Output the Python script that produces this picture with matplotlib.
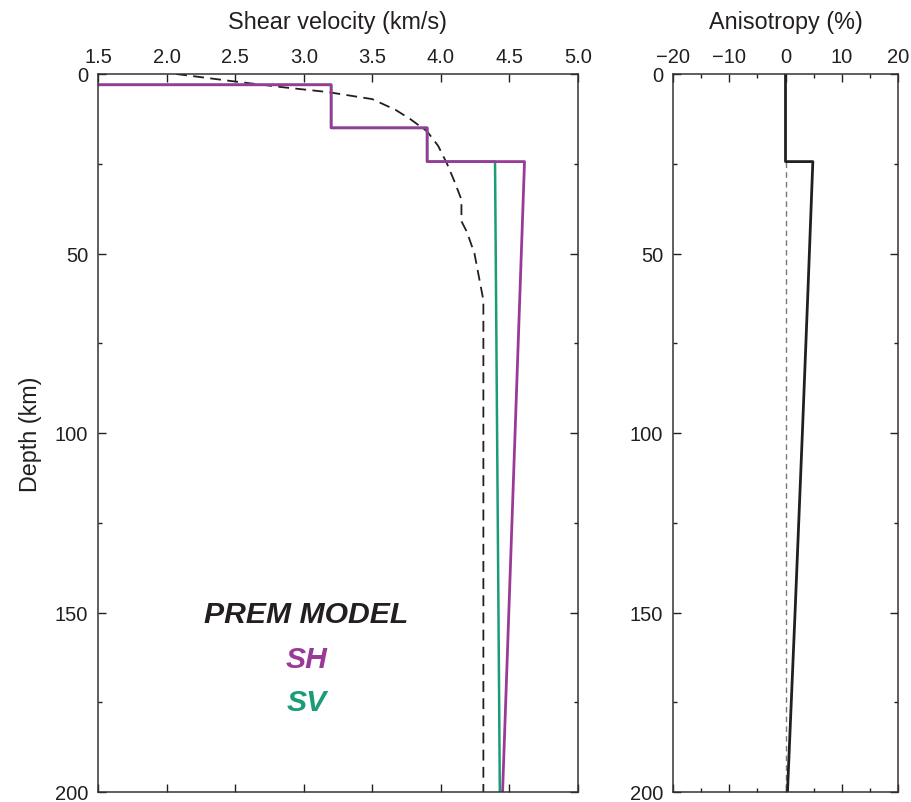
import matplotlib
matplotlib.use("Agg")
import matplotlib.pyplot as plt
from matplotlib.ticker import MultipleLocator

plt.rcParams['font.family'] = ['Liberation Sans', 'DejaVu Sans']

# ---- data ----
depth_sv = [0.0, 3.0, 3.0, 15.0, 15.0, 24.4, 24.4, 200.0]
vsv = [0.0, 0.0, 3.2, 3.2, 3.9, 3.9, 4.395, 4.43]
depth_sh = [0.0, 3.0, 3.0, 15.0, 15.0, 24.4, 24.4, 200.0]
vsh = [0.0, 0.0, 3.2, 3.2, 3.9, 3.9, 4.61, 4.45]
depth_obs = [0, 2, 3.7, 5, 7, 10, 12.5, 16, 20, 25, 30, 35, 41, 44, 50, 55, 63, 200]
v_obs = [2.07, 2.48, 2.85, 3.17, 3.5, 3.67, 3.775, 3.9, 3.98, 4.045, 4.1, 4.15, 4.15,
         4.19, 4.245, 4.27, 4.31, 4.31]
depth_an = [0.0, 24.4, 24.4, 60.0, 100.0, 150.0, 200.0]
aniso = [0.0, 0.0, 4.86, 4.0, 3.0, 1.7, 0.35]
depth_ref = [24.4, 200.0]
aniso_ref = [0.0, 0.0]

vel_ticks = [1.5, 2.0, 2.5, 3.0, 3.5, 4.0, 4.5, 5.0]
depth_ticks = [0, 50, 100, 150, 200]
an_ticks = [-20, -10, 0, 10, 20]

PURPLE = '#9a3a97'
GREEN = '#1b9c78'
INK = '#231f20'

W, H = 911, 803
fig = plt.figure(figsize=(W / 100, H / 100), dpi=100)
ax1 = fig.add_axes([98 / W, (H - 793) / H, 480 / W, 718 / H])
ax2 = fig.add_axes([673 / W, (H - 793) / H, 225 / W, 718 / H])

FS = 14.5
LFS = 16.8

def style(ax):
    ax.xaxis.set_ticks_position('both')
    ax.yaxis.set_ticks_position('both')
    ax.tick_params(which='both', direction='in', top=True, bottom=True,
                   left=True, right=True, labeltop=True, labelbottom=False,
                   labelsize=FS, colors=INK)
    ax.tick_params(axis='x', pad=5.5)
    ax.tick_params(axis='y', pad=7)
    ax.tick_params(which='major', length=6, width=1.0)
    ax.tick_params(which='minor', length=3, width=1.0)
    for s in ax.spines.values():
        s.set_linewidth(1.1)
        s.set_color('#333333')
    ax.xaxis.set_label_position('top')

# ---- left panel ----
ax1.plot(v_obs, depth_obs, color=INK, lw=1.3, dashes=(6, 3.5))
ax1.plot(vsv, depth_sv, color=GREEN, lw=1.8)
ax1.plot(vsh, depth_sh, color=PURPLE, lw=2.0)
ax1.set_xlim(1.5, 5.0)
ax1.set_ylim(200, 0)
ax1.set_xticks(vel_ticks)
ax1.set_xticklabels([f'{t:.1f}' for t in vel_ticks])
ax1.set_yticks(depth_ticks)
ax1.yaxis.set_minor_locator(MultipleLocator(25))
style(ax1)
ax1.set_xlabel('Shear velocity (km/s)', fontsize=LFS, color=INK, labelpad=14)
ax1.set_ylabel('Depth (km)', fontsize=LFS, color=INK, labelpad=9)

TFS = 21.7
ax1.text(3.02, 150.5, 'PREM MODEL', fontsize=TFS, fontweight='bold', fontstyle='italic',
         color=INK, ha='center', va='center')
ax1.text(3.02, 163, 'SH', fontsize=TFS, fontweight='bold', fontstyle='italic',
         color=PURPLE, ha='center', va='center')
ax1.text(3.02, 174.8, 'SV', fontsize=TFS, fontweight='bold', fontstyle='italic',
         color=GREEN, ha='center', va='center')

# ---- right panel ----
ax2.plot(aniso_ref, depth_ref, color='#777777', lw=1.0, dashes=(4, 3))
ax2.plot(aniso, depth_an, color=INK, lw=2.0)
ax2.set_xlim(-20, 20)
ax2.set_ylim(200, 0)
ax2.set_xticks(an_ticks)
ax2.set_xticklabels(['\u221220', '\u221210', '0', '10', '20'])
ax2.xaxis.set_minor_locator(MultipleLocator(5))
ax2.set_yticks(depth_ticks)
ax2.yaxis.set_minor_locator(MultipleLocator(25))
style(ax2)
ax2.set_xlabel('Anisotropy (%)', fontsize=LFS, color=INK, labelpad=14)

fig.savefig('out.png', dpi=100)
